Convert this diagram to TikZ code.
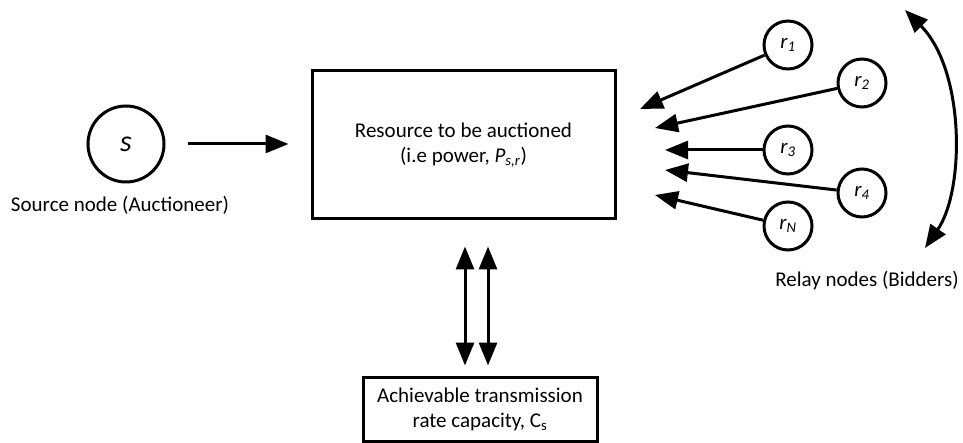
\documentclass[tikz,border=0pt]{standalone}
\usepackage{fontspec}
\setmainfont{Carlito}
\usetikzlibrary{arrows.meta}

\tikzset{every picture/.style={line width=3pt}}

\begin{document}
\begin{tikzpicture}[x=1pt,y=1pt,yscale=-1,xscale=1,
	arr/.style={-{Triangle[length=23pt,width=18pt]}},
	biarr/.style={{Triangle[length=23pt,width=18pt]}-{Triangle[length=23pt,width=18pt]}},
	relay/.style={draw,circle,minimum size=48pt,inner sep=0pt,font=\fontsize{21}{25}\selectfont},
	lbl/.style={inner sep=0pt,font=\fontsize{21}{25}\selectfont}]
	\useasboundingbox (0,0) rectangle (963,443);

	%Shape: Rectangle [id:res]
	\node [draw,lbl,align=center,minimum width=303pt,minimum height=148pt] (res) at (463.5,145) {Resource to be auctioned\\(i.e power, \textit{P}\textsubscript{\textit{s,r}})};
	%Shape: Circle [id:src]
	\node [relay,minimum size=76pt,font=\fontsize{30}{30}\selectfont\itshape] (s) at (126,144) {s};
	% Text Node
	\node [lbl] (srclbl) at (120,205) {Source node (Auctioneer)};
	%Straight Lines [id:src-res]
	\draw [arr,shorten <=22pt,shorten >=22pt] (s.east) -- (s.east -| res.west);

	%Shape: Circle [id:relays]
	\node [relay] (r1) at (788,45) {\textit{r}\textsubscript{\textit{1}}};
	\node [relay] (r2) at (862,83) {\textit{r}\textsubscript{\textit{2}}};
	\node [relay] (r3) at (788,150) {\textit{r}\textsubscript{\textit{3}}};
	\node [relay] (r4) at (862,193) {\textit{r}\textsubscript{\textit{4}}};
	\node [relay] (rN) at (788,226) {\textit{r}\textsubscript{\textit{N}}};
	\coordinate (a1) at (640,109);
	\coordinate (a2) at (655,128);
	\coordinate (a3) at (665,150);
	\coordinate (a4) at (665,170);
	\coordinate (aN) at (655,195);
	%Straight Lines [id:bids]
	\foreach \i in {1,2,3,4,N}
		\draw [arr] (r\i) -- (a\i);
	% Text Node
	\node [lbl] (rlylbl) at (867,281) {Relay nodes (Bidders)};
	%Curve Lines [id:span]
	\coordinate (bt) at (905,10);
	\coordinate (bb) at (925,248);
	\draw [biarr] (bt) .. controls (965,70) and (965,190) .. (bb);

	%Shape: Rectangle [id:cap]
	\node [draw,lbl,align=center,minimum width=234pt,minimum height=64pt] (cap) at (480,409) {Achievable transmission\\rate capacity, C\textsubscript{s}};
	%Straight Lines [id:res-cap]
	\draw [biarr,shorten >=26pt,shorten <=10pt] ([xshift=-15pt]cap.north) -- ([xshift=-15pt]cap.north |- res.south);
	\draw [biarr,shorten >=26pt,shorten <=10pt] ([xshift=8pt]cap.north) -- ([xshift=8pt]cap.north |- res.south);
\end{tikzpicture}
\end{document}
